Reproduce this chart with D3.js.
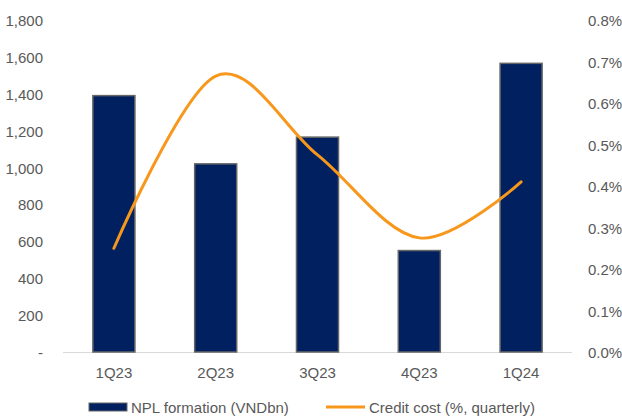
<!DOCTYPE html>
<html>
<head>
<meta charset="utf-8">
<script src="https://cdn.jsdelivr.net/npm/d3@7"></script>
<style>
  body { margin: 0; background: #fff; }
  .chart text { font-family: "Liberation Sans", Arial, sans-serif; font-size: 15px; fill: #595959; }
  .axis path, .axis line { display: none; }
</style>
</head>
<body>
<div class="chart"><svg></svg></div>
<script>
// datos
const quarters = ['1Q23', '2Q23', '3Q23', '4Q23', '1Q24'];
const nplFormation = [1390, 1020, 1165, 550, 1565];
const creditCost = [0.25, 0.665, 0.475, 0.275, 0.41];
const leftTicks = [0, 200, 400, 600, 800, 1000, 1200, 1400, 1600, 1800];
const rightTicks = [0, 0.1, 0.2, 0.3, 0.4, 0.5, 0.6, 0.7, 0.8];

const W = 622, H = 419;
const margin = { top: 20, right: 50, bottom: 67, left: 63 };
const width = W - margin.left - margin.right;
const height = H - margin.top - margin.bottom;

const svg = d3.select('.chart svg').attr('width', W).attr('height', H);
const g = svg.append('g').attr('transform', 'translate(' + margin.left + ',' + margin.top + ')');

const x = d3.scaleBand().domain(quarters).range([0, width]).paddingInner(0.587).paddingOuter(0.2935);
const yL = d3.scaleLinear().domain([0, 1800]).range([height, 0]);
const yR = d3.scaleLinear().domain([0, 0.8]).range([height, 0]);

// ejes
const fmtL = d => d === 0 ? '-' : d3.format(',')(d);
g.append('g').attr('class', 'axis')
  .attr('transform', 'translate(-17,0)')
  .call(d3.axisLeft(yL).tickValues(leftTicks).tickFormat(fmtL).tickSize(0));

g.append('g').attr('class', 'axis')
  .attr('transform', 'translate(' + (width + 13) + ',0)')
  .call(d3.axisRight(yR).tickValues(rightTicks).tickFormat(d => d.toFixed(1) + '%').tickSize(0));

g.append('g').attr('class', 'axis')
  .attr('transform', 'translate(0,' + height + ')')
  .call(d3.axisBottom(x).tickSize(0).tickPadding(20));

g.selectAll('.axis text').attr('dy', null).attr('dominant-baseline', 'central');
g.selectAll('.axis text').attr('font-family', null).attr('font-size', null).attr('fill', null);

// linea base
g.append('line')
  .attr('x1', 0).attr('x2', width)
  .attr('y1', height + 0.5).attr('y2', height + 0.5)
  .attr('stroke', '#d9d9d9').attr('stroke-width', 1);

// barras
g.selectAll('.bar')
  .data(quarters)
  .enter().append('rect')
  .attr('class', 'bar')
  .attr('x', d => x(d))
  .attr('y', (d, i) => yL(nplFormation[i]))
  .attr('width', x.bandwidth())
  .attr('height', (d, i) => height - yL(nplFormation[i]))
  .attr('fill', '#002060')
  .attr('stroke', '#666666')
  .attr('stroke-width', 1.5);

// linea suavizada
const line = d3.line()
  .x((d, i) => x(quarters[i]) + x.bandwidth() / 2)
  .y(d => yR(d))
  .curve(d3.curveCatmullRom.alpha(0));

g.append('path')
  .datum(creditCost)
  .attr('d', line)
  .attr('fill', 'none')
  .attr('stroke', '#F7981D')
  .attr('stroke-width', 3)
  .attr('stroke-linecap', 'round');

// leyenda
const leg = svg.append('g').attr('transform', 'translate(0,407)');
leg.append('rect').attr('x', 89).attr('y', -4).attr('width', 38).attr('height', 8)
  .attr('fill', '#002060').attr('stroke', '#666666').attr('stroke-width', 1);
leg.append('text').attr('x', 131).attr('y', 0).attr('dominant-baseline', 'central').text('NPL formation (VNDbn)');
leg.append('line').attr('x1', 326).attr('x2', 365).attr('y1', 0).attr('y2', 0)
  .attr('stroke', '#F7981D').attr('stroke-width', 3);
leg.append('text').attr('x', 369).attr('y', 0).attr('dominant-baseline', 'central').text('Credit cost (%, quarterly)');
</script>
</body>
</html>
